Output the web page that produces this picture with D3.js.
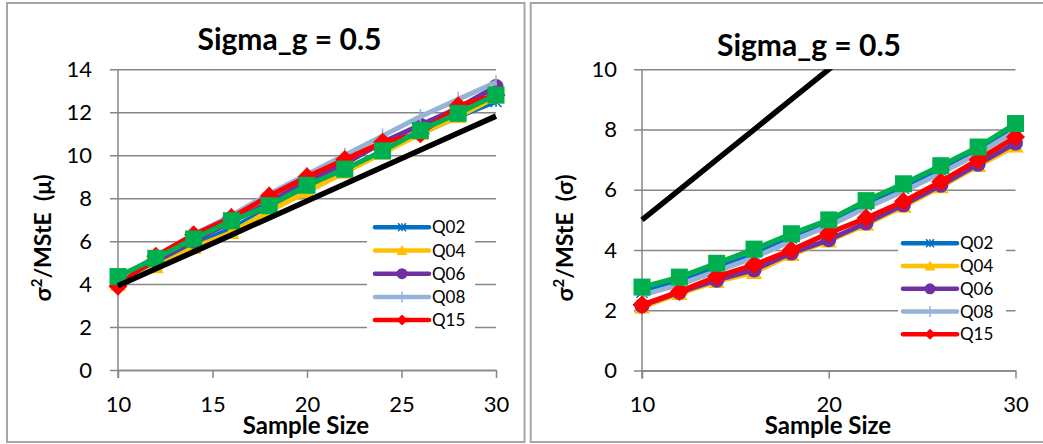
<!DOCTYPE html>
<html><head><meta charset="utf-8">
<script src="https://cdn.jsdelivr.net/npm/d3@7/dist/d3.min.js"></script>
<style>
html,body{margin:0;padding:0;background:#fff;}
svg{display:block;font-family:Lato,"Open Sans",sans-serif;}
</style></head>
<body>
<svg id="chart" width="1043" height="444"></svg>
<script>
// ---------- data ----------
const sampleSize = [10, 12, 14, 16, 18, 20, 22, 24, 26, 28, 30];
const legendNames = ["Q02", "Q04", "Q06", "Q08", "Q15"];
const chartTitle = "Sigma_g = 0.5";
const xTitle = "Sample Size";
const leftYTitle = "(μ)";
const rightYTitle = "(σ)";
const leftYTicks = [0, 2, 4, 6, 8, 10, 12, 14];
const rightYTicks = [0, 2, 4, 6, 8, 10];
const leftXTicks = [10, 15, 20, 25, 30];
const rightXTicks = [10, 20, 30];

// left panel (mu)
const muQ02 = [4.1, 4.9, 5.8, 6.6, 7.5, 8.4, 9.3, 10.2, 11.0, 11.8, 12.5];
const muQ04 = [4.0, 4.8, 5.7, 6.4, 7.4, 8.3, 9.2, 10.1, 11.0, 11.8, 12.7];
const muQ06 = [4.1, 5.1, 6.0, 6.9, 7.8, 8.8, 9.6, 10.6, 11.4, 12.2, 13.2];
const muQ08 = [4.2, 5.3, 6.3, 7.2, 8.2, 9.1, 10.0, 10.9, 11.8, 12.6, 13.4];
const muQ15 = [3.9, 5.3, 6.3, 7.1, 8.1, 9.0, 9.8, 10.6, 11.0, 12.3, 12.8];
const muQ30 = [4.35, 5.2, 6.1, 6.95, 7.65, 8.6, 9.35, 10.2, 11.15, 11.95, 12.8];
const muRef = [3.92, 4.71, 5.5, 6.29, 7.08, 7.87, 8.66, 9.45, 10.24, 11.03, 11.82];

// right panel (sigma)
const sgQ02 = [2.6, 2.95, 3.4, 3.85, 4.4, 4.85, 5.5, 6.05, 6.65, 7.3, 8.05];
const sgQ04 = [2.1, 2.55, 2.95, 3.25, 3.85, 4.3, 4.85, 5.45, 6.1, 6.8, 7.45];
const sgQ06 = [2.15, 2.6, 3.0, 3.34, 3.9, 4.34, 4.9, 5.5, 6.15, 6.85, 7.55];
const sgQ08 = [2.5, 2.85, 3.3, 3.75, 4.3, 4.8, 5.4, 5.95, 6.55, 7.2, 7.95];
const sgQ15 = [2.18, 2.62, 3.12, 3.51, 4.0, 4.56, 5.06, 5.61, 6.27, 7.0, 7.75];
const sgQ30 = [2.77, 3.1, 3.56, 4.03, 4.54, 5.0, 5.64, 6.2, 6.8, 7.42, 8.2];
const sgRef = [5, 6, 7, 8, 9, 10, 11, 12, 13, 14, 15];

// ---------- styles ----------
const styles = {
  Q02: {color: "#0070C0", marker: "asterisk"},
  Q04: {color: "#FFC000", marker: "triangle"},
  Q06: {color: "#7030A0", marker: "circle"},
  Q08: {color: "#95B3D7", marker: "plus"},
  Q15: {color: "#FF0000", marker: "diamond"},
  Q30: {color: "#00B050", marker: "square"}
};
const GRID = "#868686";
const FONT = "Lato";

const svg = d3.select("#chart");

function drawMarker(g, type, cx, cy, color, s) {
  if (type === "square") {
    g.append("rect").attr("x", cx - s/2).attr("y", cy - s/2).attr("width", s).attr("height", s).attr("fill", color);
  } else if (type === "diamond") {
    const r = s/2;
    g.append("path").attr("d", `M${cx},${cy-r}L${cx+r},${cy}L${cx},${cy+r}L${cx-r},${cy}Z`).attr("fill", color);
  } else if (type === "circle") {
    g.append("circle").attr("cx", cx).attr("cy", cy).attr("r", s/2).attr("fill", color);
  } else if (type === "triangle") {
    const r = s/2;
    g.append("path").attr("d", `M${cx},${cy-r}L${cx+r},${cy+r*0.8}L${cx-r},${cy+r*0.8}Z`).attr("fill", color);
  } else if (type === "plus") {
    g.append("line").attr("x1", cx).attr("x2", cx).attr("y1", cy - s/2).attr("y2", cy + s/2).attr("stroke", color).attr("stroke-width", 1.5);
  } else if (type === "asterisk") {
    const r = s/2;
    g.append("path").attr("d", `M${cx-r},${cy-r}L${cx+r},${cy+r}M${cx-r},${cy+r}L${cx+r},${cy-r}M${cx},${cy-r}L${cx},${cy+r}`)
      .attr("stroke", color).attr("stroke-width", 1.5).attr("fill", "none");
  }
}

function panel(cfg) {
  const g = svg.append("g");
  g.append("rect").attr("x", cfg.box[0]).attr("y", cfg.box[1]).attr("width", cfg.box[2]).attr("height", cfg.box[3])
    .attr("fill", "#fff").attr("stroke", "#a6a6a6").attr("stroke-width", 2);

  const x = d3.scaleLinear().domain([10, 30]).range([cfg.x0, cfg.x1]);
  const y = d3.scaleLinear().domain([0, cfg.ymax]).range([cfg.y0, cfg.y1]);

  const yAxis = d3.axisLeft(y).tickValues(cfg.yTicks).tickSize(-(cfg.x1 - cfg.x0)).tickSizeOuter(0).tickPadding(cfg.yPad).tickFormat(d3.format("d"));
  const ya = g.append("g").attr("transform", `translate(${cfg.x0},0)`).call(yAxis);
  ya.select(".domain").remove();
  ya.selectAll(".tick line").attr("stroke", GRID).attr("stroke-width", 1.5).attr("x1", -8);
  ya.selectAll(".tick text").attr("font-size", 22).attr("fill", "#000").attr("font-family", FONT);

  const xAxis = d3.axisBottom(x).tickValues(cfg.xTicks).tickSize(8).tickSizeOuter(0).tickPadding(18).tickFormat(d3.format("d"));
  const xa = g.append("g").attr("transform", `translate(0,${cfg.y0})`).call(xAxis);
  xa.select(".domain").attr("stroke", GRID).attr("stroke-width", 1.5);
  xa.selectAll(".tick line").attr("stroke", GRID).attr("stroke-width", 1.5);
  xa.selectAll(".tick text").attr("font-size", 22).attr("fill", "#000").attr("font-family", FONT);

  g.append("line").attr("x1", cfg.x0).attr("x2", cfg.x0).attr("y1", cfg.y1).attr("y2", cfg.y0 + 8)
    .attr("stroke", GRID).attr("stroke-width", 1.5);

  g.append("rect").attr("x", cfg.legend.bx).attr("y", cfg.legend.by).attr("width", cfg.legend.bw).attr("height", cfg.legend.bh).attr("fill", "#fff");

  const clipId = "clip" + cfg.id;
  svg.append("clipPath").attr("id", clipId).append("rect")
    .attr("x", cfg.x0 - 20).attr("y", cfg.y1).attr("width", cfg.x1 - cfg.x0 + 40).attr("height", cfg.y0 - cfg.y1 + 20);
  const plot = g.append("g").attr("clip-path", `url(#${clipId})`);

  const line = d3.line().x((d, i) => x(sampleSize[i])).y(d => y(d));
  const order = ["Q02", "Q04", "Q06", "Q08", "Q15", "Q30"];
  order.forEach(name => {
    const vals = cfg.series[name];
    const st = styles[name];
    plot.append("path").datum(vals).attr("d", line).attr("fill", "none").attr("stroke", st.color)
      .attr("stroke-width", 5).attr("stroke-linejoin", "round");
    const mg = plot.append("g");
    const size = {square: 17, diamond: 19, circle: 15, triangle: 16, plus: 15, asterisk: 11}[st.marker];
    vals.forEach((v, i) => drawMarker(mg, st.marker, x(sampleSize[i]), y(v), st.color, size));
  });
  plot.append("path").datum(cfg.ref).attr("d", line).attr("fill", "none").attr("stroke", "#000").attr("stroke-width", 5.5);

  legendNames.forEach((name, i) => {
    const st = styles[name];
    const ly = cfg.legend.y + i * cfg.legend.dy;
    g.append("line").attr("x1", cfg.legend.lx).attr("x2", cfg.legend.lx + 54).attr("y1", ly).attr("y2", ly)
      .attr("stroke", st.color).attr("stroke-width", 4.5).attr("stroke-linecap", "round");
    const lsize = {diamond: 11, circle: 11, triangle: 11, plus: 11, asterisk: 8}[st.marker];
    drawMarker(g, st.marker, cfg.legend.lx + 27, ly, st.color, lsize);
    g.append("text").attr("x", cfg.legend.lx + 57).attr("y", ly).attr("dy", "0.36em")
      .attr("font-size", 17).attr("font-family", FONT).text(name);
  });

  g.append("text").attr("x", cfg.titleX).attr("y", cfg.titleY).attr("text-anchor", "middle").attr("dy", "0.36em")
    .attr("font-size", 30).attr("font-weight", "bold").attr("font-family", FONT).text(chartTitle);
  g.append("text").attr("x", cfg.xTitleX).attr("y", 425).attr("text-anchor", "middle").attr("dy", "0.36em")
    .attr("font-size", 24).attr("font-weight", "bold").attr("font-family", FONT).text(xTitle);
  const yt = g.append("text").attr("transform", `translate(${cfg.yTitleX},238) rotate(-90)`)
    .attr("text-anchor", "middle").attr("dy", "0.36em").style("white-space", "pre")
    .attr("font-size", 23).attr("font-weight", "bold").attr("font-family", FONT);
  yt.append("tspan").text("σ");
  yt.append("tspan").attr("font-size", 15).attr("dy", "-0.6em").text("2");
  yt.append("tspan").attr("dy", "0.4em").text("/MStE\u00A0\u00A0" + cfg.yUnit);
}

panel({
  id: "L", box: [7, 3, 517.5, 439],
  x0: 118, x1: 496, y0: 370, y1: 69.3, ymax: 14, yPad: 26,
  yTicks: leftYTicks, xTicks: leftXTicks,
  series: {Q02: muQ02, Q04: muQ04, Q06: muQ06, Q08: muQ08, Q15: muQ15, Q30: muQ30},
  ref: muRef,
  legend: {bx: 367, by: 214, bw: 108, bh: 120, lx: 375, y: 227.3, dy: 23.2},
  titleX: 289.5, titleY: 39, xTitleX: 306, yTitleX: 43, yUnit: leftYTitle
});
panel({
  id: "R", box: [530.7, 3, 520, 439],
  x0: 642, x1: 1015.5, y0: 370.5, y1: 69.3, ymax: 10, yPad: 25,
  yTicks: rightYTicks, xTicks: rightXTicks,
  series: {Q02: sgQ02, Q04: sgQ04, Q06: sgQ06, Q08: sgQ08, Q15: sgQ15, Q30: sgQ30},
  ref: sgRef,
  legend: {bx: 898, by: 230, bw: 108, bh: 118, lx: 903, y: 243.3, dy: 22.75},
  titleX: 809, titleY: 45, xTitleX: 828, yTitleX: 565, yUnit: rightYTitle
});
</script>
</body></html>
